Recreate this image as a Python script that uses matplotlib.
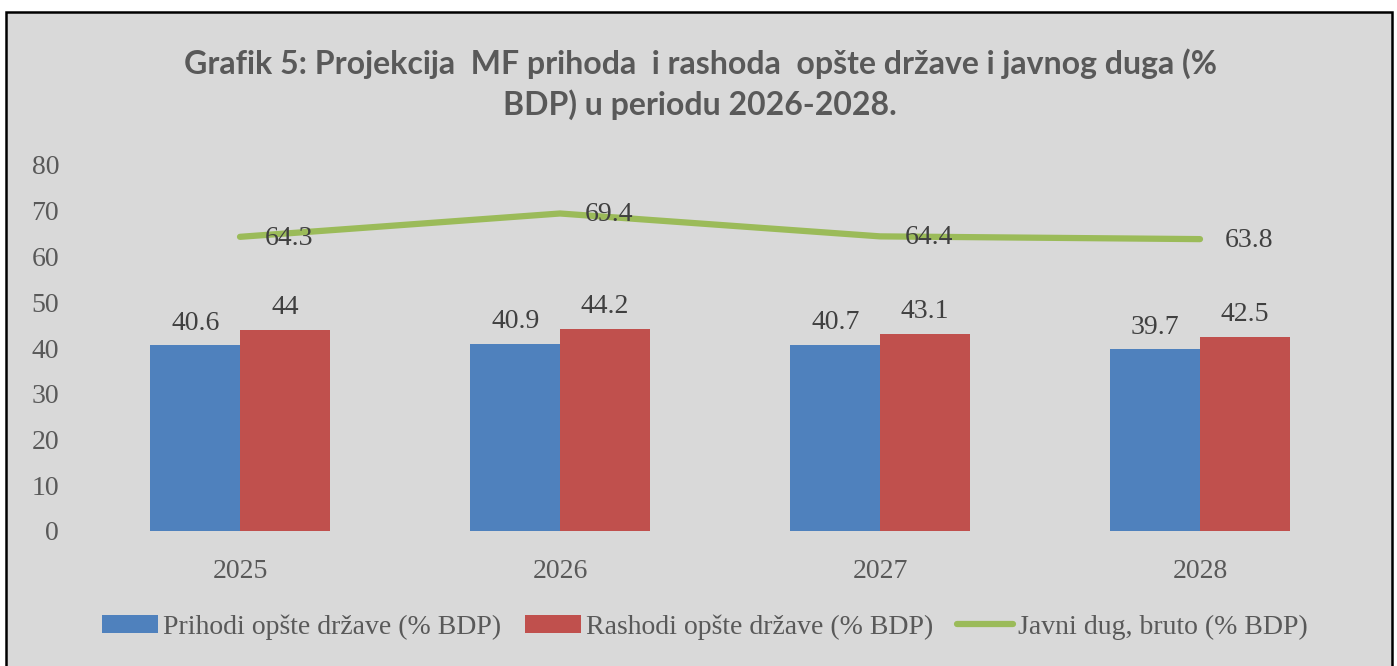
import matplotlib
matplotlib.use("Agg")
import matplotlib.pyplot as plt
from matplotlib.patches import Patch, Rectangle
from matplotlib.lines import Line2D
import numpy as np

years = ["2025", "2026", "2027", "2028"]
prihodi = [40.6, 40.9, 40.7, 39.7]
rashodi = [44.0, 44.2, 43.1, 42.5]
dug = [64.3, 69.4, 64.4, 63.8]
prihodi_labels = ["40.6", "40.9", "40.7", "39.7"]
rashodi_labels = ["44", "44.2", "43.1", "42.5"]
dug_labels = ["64.3", "69.4", "64.4", "63.8"]
yticks = [0, 10, 20, 30, 40, 50, 60, 70, 80]

title = "Grafik 5: Projekcija  MF prihoda  i rashoda  opšte države i javnog duga (%\nBDP) u periodu 2026-2028."
legend_labels = ["Prihodi opšte države (% BDP)", "Rashodi opšte države (% BDP)", "Javni dug, bruto (% BDP)"]

BLUE = "#4F81BD"
RED = "#C0504D"
GREEN = "#9BBB59"
BG = "#D9D9D9"
TICK = "#595959"
LABEL = "#404040"
SERIF = "Liberation Serif"
FS = 20

W, H = 1397, 666
fig = plt.figure(figsize=(W / 100, H / 100), dpi=100)
fig.patch.set_facecolor("white")
# chart area background with border
fig.patches.append(Rectangle((6 / W, -0.05), (1392 - 6) / W, 0.05 + (H - 12) / H, transform=fig.transFigure,
                             facecolor=BG, edgecolor="black", linewidth=1.8, zorder=-5))

ax = fig.add_axes([80 / W, 1 - 531 / H, 1280 / W, 366 / H])
ax.set_facecolor("none")
ax.set_zorder(2)
x = np.arange(len(years))
bw = 0.28
ax.bar(x - bw / 2, prihodi, bw, color=BLUE, zorder=2)
ax.bar(x + bw / 2, rashodi, bw, color=RED, zorder=2)
ax.plot(x, dug, color=GREEN, lw=4.5, solid_capstyle="round", solid_joinstyle="round", zorder=3)

for i in range(len(years)):
    ax.annotate(prihodi_labels[i], (x[i] - bw / 2, prihodi[i]), xytext=(0, 7), textcoords="offset points",
                ha="center", va="bottom", fontsize=FS, family=SERIF, color=LABEL, zorder=4)
    ax.annotate(rashodi_labels[i], (x[i] + bw / 2, rashodi[i]), xytext=(0, 7), textcoords="offset points",
                ha="center", va="bottom", fontsize=FS, family=SERIF, color=LABEL, zorder=4)
    ax.annotate(dug_labels[i], (x[i], dug[i]), xytext=(18, -1), textcoords="offset points",
                ha="left", va="center", fontsize=FS, family=SERIF, color=LABEL, zorder=4)

ax.set_xlim(-0.5, 3.5)
ax.set_ylim(0, 80)
ax.set_yticks(yticks)
ax.set_yticklabels([str(v) for v in yticks])
ax.set_xticks(x)
ax.set_xticklabels(years)
for s in ax.spines.values():
    s.set_visible(False)
ax.tick_params(length=0, colors=TICK, labelsize=FS)
ax.tick_params(axis="y", pad=15)
ax.tick_params(axis="x", pad=20)
for lbl in ax.get_xticklabels() + ax.get_yticklabels():
    lbl.set_family(SERIF)

fig.text(700 / W, 1 - 84 / H, title, ha="center", va="center", fontsize=23, fontweight="bold",
         family="Lato", color=TICK, linespacing=1.42)

handles = [Patch(facecolor=BLUE), Patch(facecolor=RED), Line2D([0], [0], color=GREEN, lw=4.5, solid_capstyle="round")]
leg = fig.legend(handles, legend_labels, loc="center", bbox_to_anchor=(705 / W, 1 - 627 / H), ncol=3,
                 frameon=False, prop={"family": SERIF, "size": FS}, handlelength=2.0, handleheight=0.6,
                 handletextpad=0.2, columnspacing=0.85, labelcolor=TICK)

fig.savefig("out.png", dpi=100, facecolor=fig.get_facecolor())
